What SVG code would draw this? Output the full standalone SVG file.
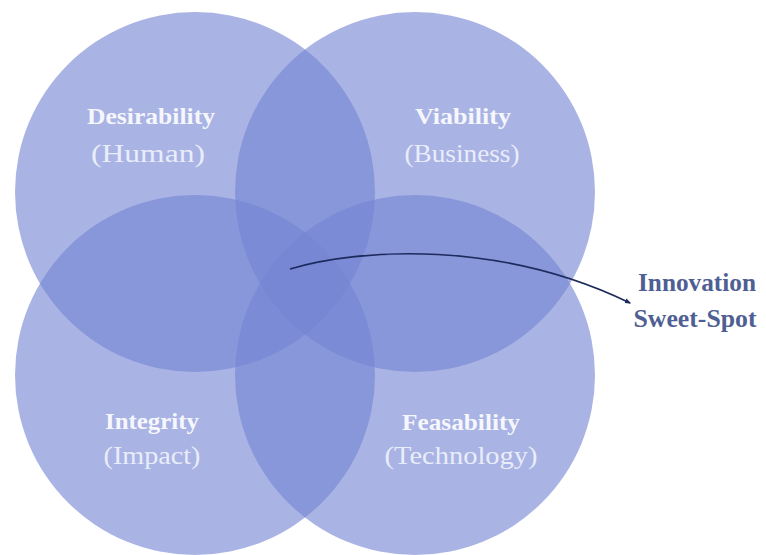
<svg xmlns="http://www.w3.org/2000/svg" width="766" height="555" viewBox="0 0 766 555">
  <style>
    .c { fill: rgb(117,133,212); fill-opacity: 0.62; }
    .t { font-family: "Liberation Serif", "Times New Roman", serif; font-size: 24px; fill: #f5f7fd; text-anchor: middle; }
    .b { font-weight: bold; }
    .s { font-size: 26px; fill: #e9edfa; }
    .lbl { font-family: "Liberation Serif", "Times New Roman", serif; font-size: 25px; font-weight: bold; fill: #505f93; text-anchor: middle; }
    .conn { fill: none; stroke: #1c2a5c; stroke-width: 1.6; }
  </style>
  <defs>
    <marker id="ah" viewBox="0 0 10 10" refX="8" refY="5" markerWidth="4" markerHeight="4" orient="auto">
      <path d="M0,1 L10,5 L0,9 z" fill="#1c2a5c"/>
    </marker>
  </defs>
  <rect width="766" height="555" fill="#ffffff"/>
  <g id="desirability">
    <circle class="c" cx="195" cy="192" r="180"/>
    <text class="t b" x="151" y="124" textLength="128" lengthAdjust="spacingAndGlyphs">Desirability</text>
    <text class="t s" x="148" y="162" textLength="114" lengthAdjust="spacingAndGlyphs">(Human)</text>
  </g>
  <g id="viability">
    <circle class="c" cx="415" cy="192" r="180"/>
    <text class="t b" x="463" y="124" textLength="96" lengthAdjust="spacingAndGlyphs">Viability</text>
    <text class="t s" x="462" y="162" textLength="115" lengthAdjust="spacingAndGlyphs">(Business)</text>
  </g>
  <g id="integrity">
    <circle class="c" cx="195" cy="375" r="180"/>
    <text class="t b" x="152" y="429" textLength="94" lengthAdjust="spacingAndGlyphs">Integrity</text>
    <text class="t s" x="152" y="464" textLength="97" lengthAdjust="spacingAndGlyphs">(Impact)</text>
  </g>
  <g id="feasability">
    <circle class="c" cx="415" cy="375" r="180"/>
    <text class="t b" x="461" y="430" textLength="118" lengthAdjust="spacingAndGlyphs">Feasability</text>
    <text class="t s" x="461" y="464" textLength="153" lengthAdjust="spacingAndGlyphs">(Technology)</text>
  </g>
  <g id="sweet-spot">
    <text class="lbl" x="697" y="291" textLength="118" lengthAdjust="spacingAndGlyphs">Innovation</text>
    <text class="lbl" x="695" y="327" textLength="123" lengthAdjust="spacingAndGlyphs">Sweet-Spot</text>
  </g>
  <g id="connectors">
    <path class="conn" d="M290,269 C360,248 500,240 630,303" marker-end="url(#ah)"/>
  </g>
</svg>
